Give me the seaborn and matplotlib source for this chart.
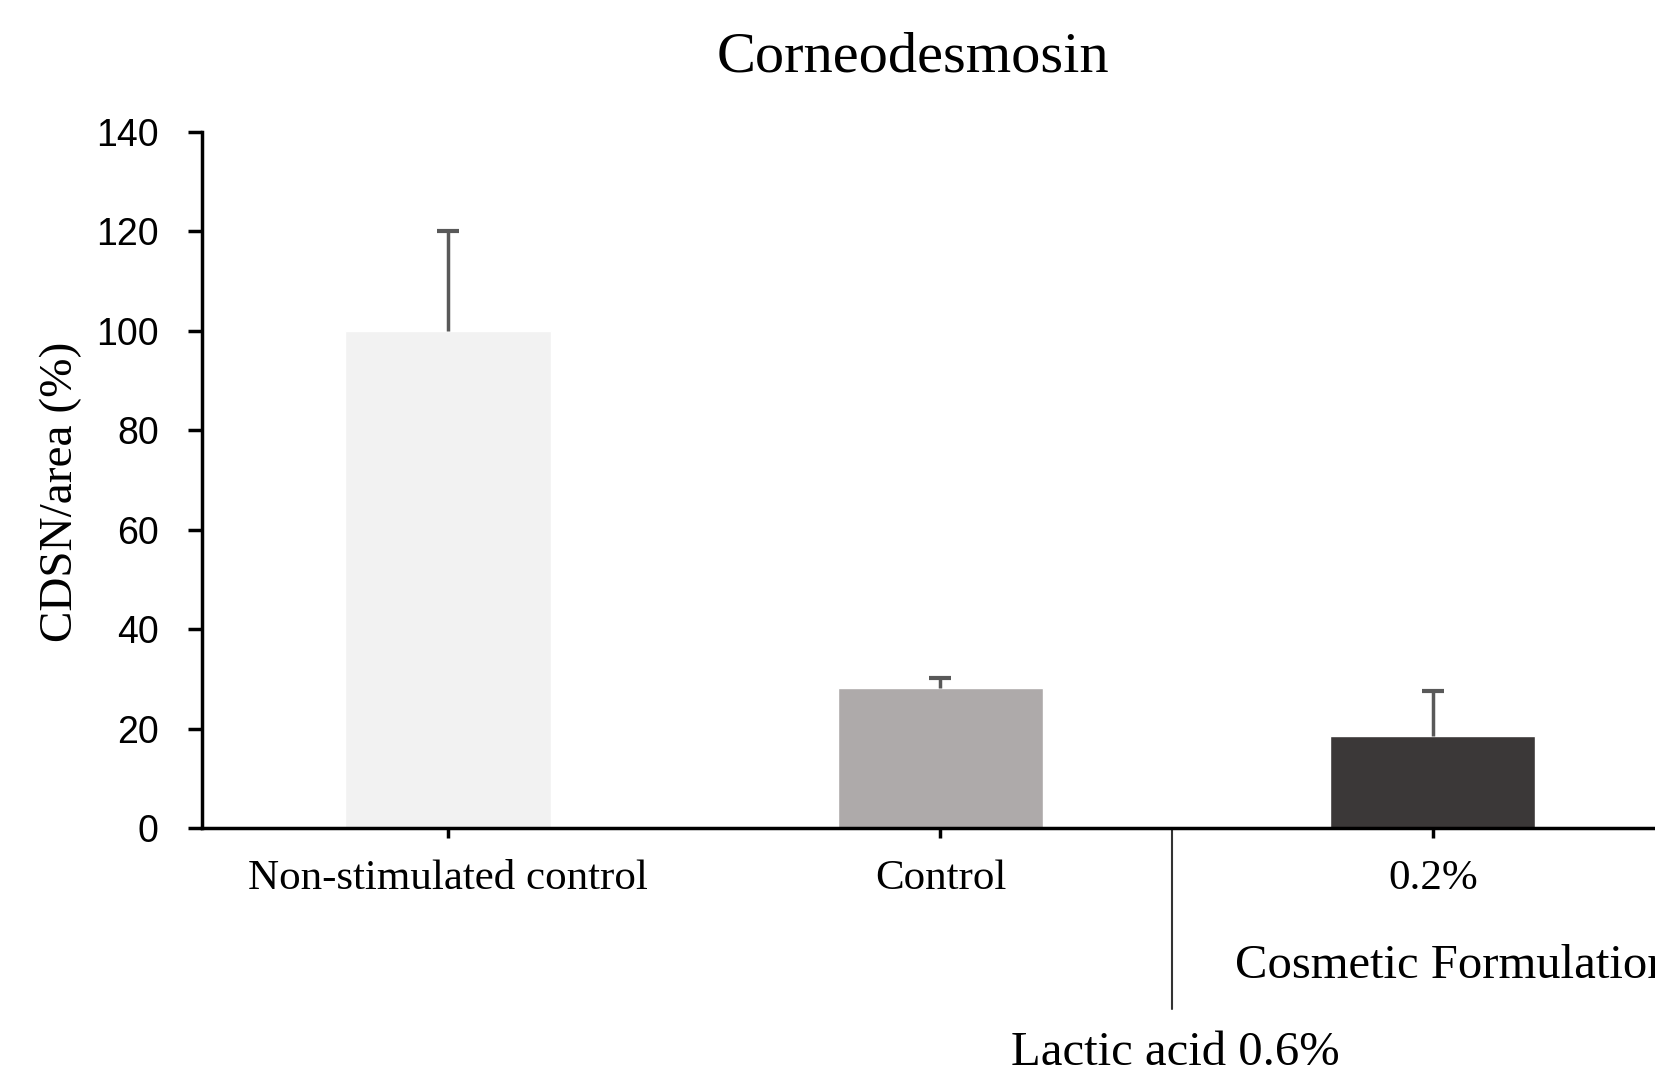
import pandas as pd
import matplotlib
matplotlib.use("Agg")
import matplotlib.pyplot as plt
import matplotlib.transforms as mtransforms
import seaborn as sns

categories = ["Non-stimulated control", "Control", "0.2%"]
values = [100, 28.2, 18.5]
errors_up = [20, 2.0, 9.1]
bar_colors = ["#f2f2f2", "#aeaaaa", "#3b3838"]
y_ticks = [0, 20, 40, 60, 80, 100, 120, 140]

sns.set_style("ticks")
plt.rcParams["font.family"] = ["Liberation Serif", "DejaVu Serif"]
plt.rcParams["text.color"] = "black"
plt.rcParams["axes.labelcolor"] = "black"
plt.rcParams["xtick.color"] = "black"
plt.rcParams["ytick.color"] = "black"

df = pd.DataFrame({"group": categories, "value": values})

fig = plt.figure(figsize=(16.55, 10.8), dpi=100)
ax = fig.add_axes([0.122, 0.2333, 0.8925, 0.6445])

sns.barplot(data=df, x="group", y="value", hue="group", palette=bar_colors,
            width=0.417, legend=False, ax=ax, saturation=1)
eb = ax.errorbar(range(len(categories)), values,
                 yerr=[[0] * len(values), errors_up],
                 fmt="none", ecolor="#595959", elinewidth=2.5, capsize=8,
                 capthick=3)
# only the upper cap, like the original
eb[1][0].set_visible(False)

ax.set_xlim(-0.5, 2.5)
ax.set_ylim(0, 140)
ax.set_yticks(y_ticks)
ax.set_xlabel("")
ax.set_ylabel("CDSN/area (%)", fontsize=34)
ax.yaxis.set_label_coords(-0.081, 0.483)

for lab in ax.get_yticklabels():
    lab.set_fontfamily("Liberation Sans")
    lab.set_fontsize(27)
ax.tick_params(axis="y", length=10, width=2.5, pad=21, colors="black")
ax.tick_params(axis="x", length=7, width=2.5, pad=16, labelsize=31,
               colors="black")

sns.despine(ax=ax)
for side in ["left", "bottom"]:
    ax.spines[side].set_linewidth(2.5)
    ax.spines[side].set_color("black")

# separator line under the axis
trans = mtransforms.blended_transform_factory(ax.transData, ax.transAxes)
ax.plot([1.47, 1.47], [0, -0.26], transform=trans, color="#333333",
        lw=1.5, clip_on=False)

fig.text(913 / 1655, 1 - 58 / 1080, "Corneodesmosin", ha="center", va="center",
         fontsize=42)
fig.text(1235 / 1655, 1 - 966 / 1080, "Cosmetic Formulation", ha="left",
         va="center", fontsize=35)
fig.text(1175 / 1655, 1 - 1053 / 1080, "Lactic acid 0.6%", ha="center",
         va="center", fontsize=35)

fig.savefig("out.png", dpi=100)
